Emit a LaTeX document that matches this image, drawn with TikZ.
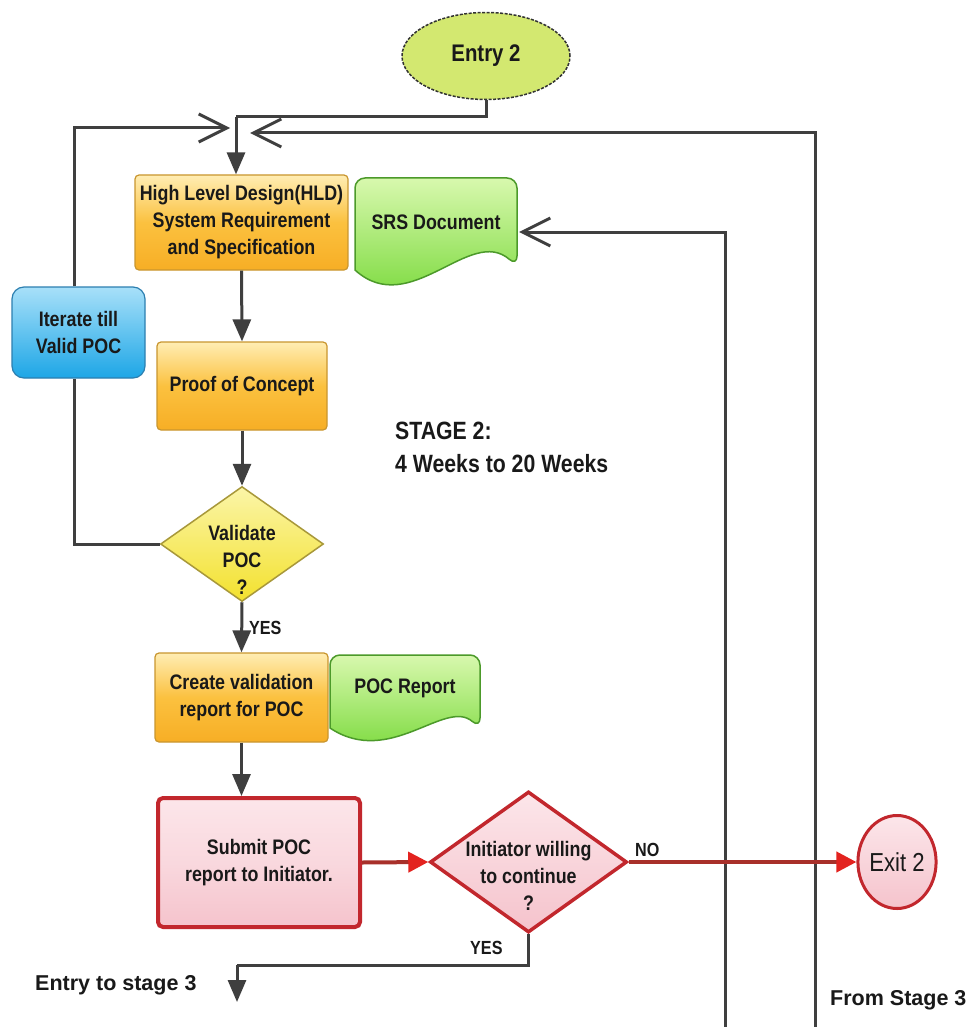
\documentclass[tikz,border=0pt]{standalone}
\usepackage{fontspec}
\setmainfont{Liberation Sans}
\newfontfamily\nf[FakeStretch=0.85]{Liberation Sans}
\usetikzlibrary{arrows.meta,shapes.geometric}
\definecolor{lineGray}{HTML}{3F3F3F}
\definecolor{orTop}{HTML}{FFEDB3}
\definecolor{orMid}{HTML}{FBC13F}
\definecolor{orBot}{HTML}{F7AE25}
\definecolor{orBorder}{HTML}{C9962F}
\definecolor{blTop}{HTML}{A8E0F9}
\definecolor{blBot}{HTML}{1DA6E6}
\definecolor{blBorder}{HTML}{2C7FB0}
\definecolor{grTop}{HTML}{D8F8AE}
\definecolor{grBot}{HTML}{6CD52B}
\definecolor{grBorder}{HTML}{4C9A2A}
\definecolor{yeTop}{HTML}{FBF5A8}
\definecolor{yeBot}{HTML}{F3E12E}
\definecolor{yeBorder}{HTML}{A8983A}
\definecolor{enFill}{HTML}{D3E870}
\definecolor{pkTop}{HTML}{FCE6EA}
\definecolor{pkBot}{HTML}{F5C3CC}
\definecolor{pkBorder}{HTML}{C2272D}
\definecolor{redLine}{HTML}{A8302A}
\definecolor{redTip}{HTML}{E3231F}
\newcommand\bxf{\nf\bfseries\fontsize{21}{27}\selectfont}
\tikzset{
  conn/.style={draw=lineGray, line width=3pt},
  tri/.style={-{Triangle[length=22pt,width=18pt,color=lineGray]}},
  barb/.style={-{Straight Barb[length=28pt,width=28pt,color=lineGray]}},
  rconn/.style={draw=redLine, line width=4pt, -{Triangle[length=20pt,width=20pt,color=redTip]}},
  obox/.style={rectangle, rounded corners=4pt, draw=orBorder, line width=1.2pt,
    top color=orTop, bottom color=orBot, middle color=orMid, align=center, font=\bxf, inner sep=0pt, text=black!90},
  bbox/.style={rectangle, rounded corners=12pt, draw=blBorder, line width=1.2pt,
    top color=blTop, bottom color=blBot, align=center, font=\bxf, inner sep=0pt, text=black!90},
  pbox/.style={rectangle, rounded corners=5pt, draw=pkBorder, line width=4pt,
    top color=pkTop, bottom color=pkBot, middle color=pkTop!60!pkBot, align=center, font=\bxf, inner sep=0pt, text=black!90},
  ydiam/.style={diamond, draw=yeBorder, line width=1.5pt, top color=yeTop, bottom color=yeBot, inner sep=0pt},
  pdiam/.style={diamond, draw=pkBorder, line width=3.5pt, top color=pkTop, bottom color=pkBot, inner sep=0pt},
  docshape/.style={draw=grBorder, line width=1.5pt, top color=grTop, bottom color=grBot},
  doctext/.style={font=\bxf, align=center, inner sep=0pt, text=black!90},
  txt/.style={font=\bxf, align=center, inner sep=0pt, text=black!90},
  entrys/.style={ellipse, draw=black!80, dash pattern=on 3pt off 1.5pt, line width=1.5pt, fill=enFill, minimum width=168pt, minimum height=87pt, inner sep=0pt,
    font=\nf\bfseries\fontsize{24}{28}\selectfont, text=black!90},
  exits/.style={ellipse, draw=pkBorder, line width=3pt, top color=pkTop, bottom color=pkBot, minimum width=75pt, minimum height=93pt, inner sep=0pt,
    font=\nf\fontsize{26}{30}\selectfont, text=black!90},
  lbl/.style={font=\bfseries\fontsize{21.5}{26}\selectfont, inner sep=0pt, text=black!90},
  slbl/.style={font=\nf\bfseries\fontsize{25}{33}\selectfont, inner sep=0pt, text=black!90, align=left},
  yn/.style={font=\nf\bfseries\fontsize{19}{22}\selectfont, inner sep=0pt, text=black!90}
}
\begin{document}
\begin{tikzpicture}[x=1pt,y=-1pt]
\useasboundingbox (0,0) rectangle (969,1027);
\fill[white] (0,0) rectangle (969,1027);

% document shapes
\path[docshape, rounded corners=10pt] (355,270) -- (355,178) -- (517,178) -- (517,266)
  [sharp corners] .. controls (470,225) and (410,320) .. (355,270) -- cycle;
\path[docshape, rounded corners=10pt] (330,728) -- (330,655) -- (480,655) -- (480,728)
  [sharp corners] .. controls (445,698) and (390,768) .. (330,728) -- cycle;

% nodes
\node[entrys] (entry) at (486,56) {Entry 2};
\node[obox, minimum width=213pt, minimum height=95pt] (hld) at (241.5,222.5) {High Level Design(HLD)\\System Requirement\\and Specification};
\node[doctext, minimum width=162pt] (srs) at (436,222) {SRS Document};
\node[bbox, minimum width=133pt, minimum height=91pt] (iter) at (78.5,332.5) {Iterate till\\Valid POC};
\node[obox, minimum width=170pt, minimum height=88pt] (poc) at (242,386) {Proof of Concept};
\node[ydiam, minimum width=163pt, minimum height=115pt] (val) at (242,544) {};
\node[txt] (valt) at (242,560) {Validate\\POC\\?};
\node[obox, minimum width=173pt, minimum height=89pt] (create) at (241.5,697.5) {Create validation\\report for POC};
\node[doctext, minimum width=150pt] (pocr) at (405,688) {POC Report};
\node[pbox, minimum width=202pt, minimum height=129pt] (submit) at (259,862.5) {Submit POC\\report to Initiator.};
\node[pdiam, minimum width=197pt, minimum height=141pt] (init) at (528.5,862) {};
\node[txt] (initt) at (528.5,876) {Initiator willing\\to continue\\?};
\node[exits] (exit) at (897,862) {Exit 2};
\node[slbl, anchor=west] (stage) at (395,447) {STAGE 2:\\4 Weeks to 20 Weeks};
\node[lbl, anchor=west] (e3) at (35,985) {Entry to stage 3};
\node[lbl, anchor=west] (f3) at (830,1000) {From Stage 3};

% coordinates
\coordinate (j1) at (236,117);
\coordinate (la) at (230,128);
\coordinate (ra) at (250,133);
\coordinate (fb1) at (725,1027);
\coordinate (fb2) at (815,1027);
\coordinate (srsin) at (519,232);
\coordinate (j2) at (237,965);
\coordinate (e3tip) at (237,1002);
\coordinate (vl) at (74,540);

% gray connectors
\draw[conn] (entry.south) |- (j1);
\draw[conn,tri] (j1) -- (j1 |- hld.north);
\draw[conn,barb] (iter.north -| vl) |- (la);
\draw[conn] (val.west) -| (iter.south -| vl);
\draw[conn,barb] (fb2) |- (ra);
\draw[conn,barb] (fb1) |- (srsin);
\draw[conn,tri] (hld.south) -- (poc.north);
\draw[conn,tri] (poc.south) -- (val.north);
\draw[conn,tri] (val.south) -- (create.north);
\draw[conn,tri] (create.south) -- (create.south |- submit.north);
\draw[conn] (init.south) |- (j2);
\draw[conn,tri] (j2) -- (e3tip);

% red connectors
\draw[rconn] (submit.east) -- (init.west);
\draw[rconn] (init.east) -- (exit.west);

% labels
\node[yn, anchor=west] (yes1) at (249,628) {YES};
\node[yn, anchor=west] (yes2) at (470,948) {YES};
\node[yn, anchor=west] (no1) at (635,850) {NO};
\end{tikzpicture}
\end{document}
